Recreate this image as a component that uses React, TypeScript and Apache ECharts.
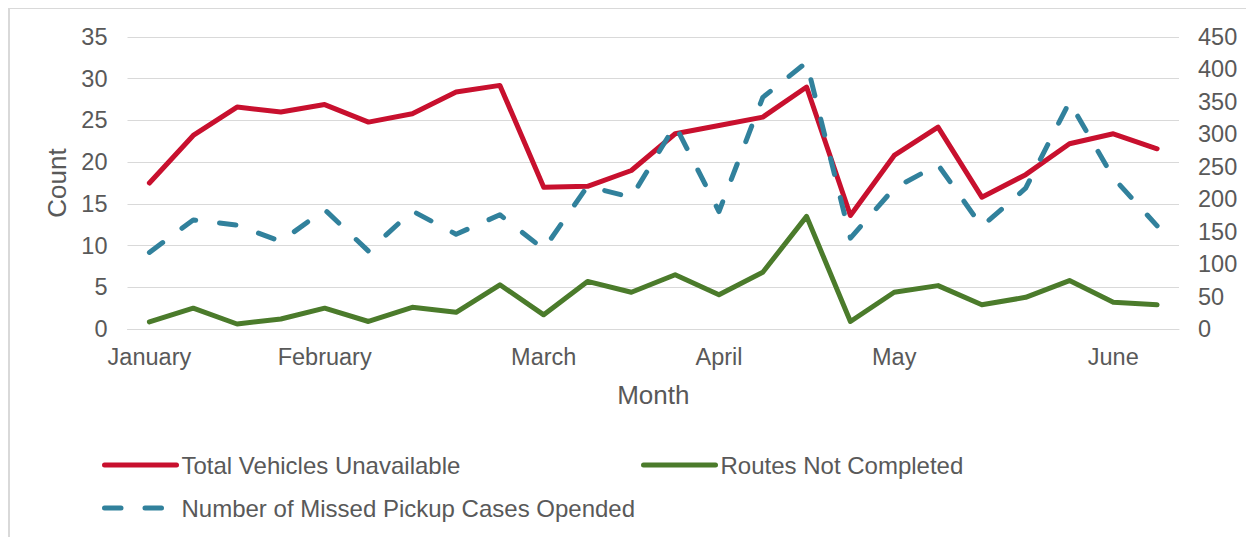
import React, { useEffect, useRef } from "react";
import * as echarts from "echarts";

const weeks = [
  "W1", "W2", "W3", "W4", "W5", "W6", "W7", "W8", "W9", "W10", "W11", "W12",
  "W13", "W14", "W15", "W16", "W17", "W18", "W19", "W20", "W21", "W22", "W23", "W24",
];
const monthTickLabels = [
  "January", "", "", "", "February", "", "", "", "", "March", "", "", "",
  "April", "", "", "", "May", "", "", "", "", "June", "",
];
const totalVehiclesUnavailable = [
  17.5, 23.2, 26.6, 26.0, 26.9, 24.8, 25.8, 28.4, 29.2, 17.0, 17.1, 19.0,
  23.4, 24.4, 25.4, 29.0, 13.6, 20.8, 24.2, 15.8, 18.5, 22.2, 23.4, 21.6,
];
const routesNotCompleted = [
  0.85, 2.5, 0.6, 1.2, 2.5, 0.9, 2.6, 2.0, 5.3, 1.7, 5.7, 4.4,
  6.5, 4.1, 6.8, 13.5, 0.9, 4.4, 5.2, 2.9, 3.8, 5.8, 3.2, 2.9,
];
const missedPickupCases = [
  118, 168, 160, 135, 184, 120, 182, 146, 176, 123, 220, 203,
  314, 181, 357, 411, 140, 217, 253, 158, 217, 350, 233, 159,
];

const seriesNames = [
  "Total Vehicles Unavailable",
  "Routes Not Completed",
  "Number of Missed Pickup Cases Opended",
];

const TEXT = "#595959";
const GRID = "#d9d9d9";
const FONT = "'Liberation Sans', Arial, sans-serif";
const LW = 5;

export default function App() {
  const ref = useRef<HTMLDivElement>(null);

  useEffect(() => {
    if (!ref.current) return;
    const chart = echarts.init(ref.current, undefined, { renderer: "svg" });
    const legendText = { color: TEXT, fontSize: 24, fontFamily: FONT };
    const mkLegend = (name: string, left: number, top: number) => ({
      data: [name],
      left,
      top,
      padding: 0,
      itemWidth: 72,
      itemHeight: 14,
      itemGap: 10,
      textStyle: legendText,
      itemStyle: { opacity: 0 },
      lineStyle: { width: LW, cap: "round" },
      selectedMode: false,
    });
    chart.setOption({
      animation: false,
      textStyle: { fontFamily: FONT },
      grid: { left: 117.5, top: 28, width: 1051.5, height: 292, containLabel: false },
      legend: [
        mkLegend(seriesNames[0], 92, 444),
        mkLegend(seriesNames[1], 631, 444),
        mkLegend(seriesNames[2], 92, 487),
      ],
      xAxis: {
        type: "category",
        data: weeks,
        boundaryGap: true,
        name: "Month",
        nameLocation: "middle",
        nameGap: 53,
        nameTextStyle: { color: TEXT, fontSize: 26, fontFamily: FONT },
        axisLine: { show: true, lineStyle: { color: GRID, width: 1 } },
        axisTick: { show: false },
        axisLabel: {
          interval: 0,
          color: TEXT,
          fontSize: 23.5,
          fontFamily: FONT,
          margin: 16,
          formatter: (_v: string, i: number) => monthTickLabels[i],
        },
        splitLine: { show: false },
      },
      yAxis: [
        {
          type: "value",
          min: 0,
          max: 35,
          interval: 5,
          name: "Count",
          nameLocation: "middle",
          nameGap: 55,
          nameTextStyle: { color: TEXT, fontSize: 26, fontFamily: FONT },
          axisLine: { show: false },
          axisTick: { show: false },
          axisLabel: { color: TEXT, fontSize: 23.5, fontFamily: FONT, margin: 20 },
          splitLine: { show: true, lineStyle: { color: GRID, width: 1 } },
        },
        {
          type: "value",
          min: 0,
          max: 450,
          interval: 50,
          position: "right",
          axisLine: { show: false },
          axisTick: { show: false },
          axisLabel: { color: TEXT, fontSize: 23.5, fontFamily: FONT, margin: 19 },
          splitLine: { show: false },
        },
      ],
      series: [
        {
          name: seriesNames[0],
          type: "line",
          data: totalVehiclesUnavailable,
          yAxisIndex: 0,
          symbol: "none",
          color: "#C8102E",
          lineStyle: { color: "#C8102E", width: LW, cap: "round", join: "round" },
        },
        {
          name: seriesNames[1],
          type: "line",
          data: routesNotCompleted,
          yAxisIndex: 0,
          symbol: "none",
          color: "#4B7B2B",
          lineStyle: { color: "#4B7B2B", width: LW, cap: "round", join: "round" },
        },
        {
          name: seriesNames[2],
          type: "line",
          data: missedPickupCases,
          yAxisIndex: 1,
          symbol: "none",
          color: "#31819C",
          lineStyle: {
            color: "#31819C",
            width: LW,
            type: [16.5, 24],
            cap: "round",
            join: "round",
          },
        },
      ],
    });
    return () => chart.dispose();
  }, []);

  return (
    <div
      style={{
        width: 1246,
        height: 529,
        borderLeft: "2px solid #d9d9d9",
        borderTop: "1px solid #d9d9d9",
        boxSizing: "border-box",
        overflow: "hidden",
      }}
    >
      <div ref={ref} style={{ width: 1244, height: 528 }} />
    </div>
  );
}
